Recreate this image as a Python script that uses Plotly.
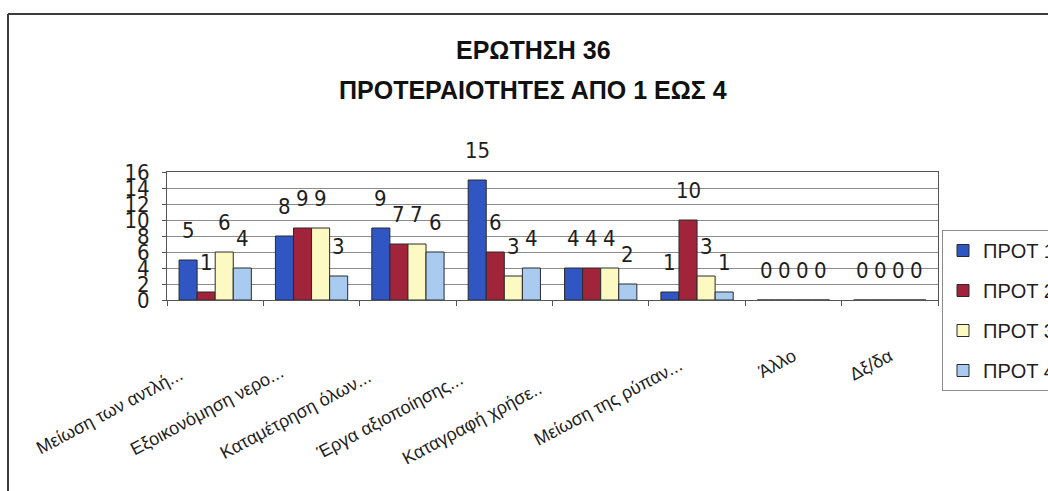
import plotly.graph_objects as go

# Survey question 36: priorities 1 to 4 per measure
categories = [
    "Μείωση των αντλή...",
    "Εξοικονόμηση νερο...",
    "Καταμέτρηση όλων...",
    "Έργα αξιοποίησης...",
    "Καταγραφή χρήσε..",
    "Μείωση της ρύπαν...",
    "Άλλο",
    "Δξ/δα",
]
series_names = ["ΠΡΟΤ 1", "ΠΡΟΤ 2", "ΠΡΟΤ 3", "ΠΡΟΤ 4"]
prot1 = [5, 8, 9, 15, 4, 1, 0, 0]
prot2 = [1, 9, 7, 6, 4, 10, 0, 0]
prot3 = [6, 9, 7, 3, 4, 3, 0, 0]
prot4 = [4, 3, 6, 4, 2, 1, 0, 0]
y_tick_values = [0, 2, 4, 6, 8, 10, 12, 14, 16]
title_lines = ["ΕΡΩΤΗΣΗ 36", "ΠΡΟΤΕΡΑΙΟΤΗΤΕΣ ΑΠΟ 1 ΕΩΣ 4"]

# styling
series_values = [prot1, prot2, prot3, prot4]
colors = ["#3056c4", "#a2243a", "#fdf9c2", "#a9cbef"]
label_pad = [8, 7, 9, 10, 14, 4, 0, 0]   # trailing no-break spaces per tick label
W, H = 1048, 491
M = dict(l=167, r=110, t=172, b=191)
BARGAP = 0.25
TEXT = "#1e1e1e"
SANS = "Liberation Sans, Arial, sans-serif"
NARROW = "Liberation Sans Narrow, DejaVu Sans Condensed, Liberation Sans, sans-serif"

fig = go.Figure()
for name, vals, col in zip(series_names, series_values, colors):
    fig.add_trace(go.Bar(
        x=categories, y=vals, name=name, legendgroup=name,
        marker=dict(color=col, line=dict(color="#2a2a2a", width=1)),
    ))

# value labels above each bar
plot_w = W - M["l"] - M["r"]
cat_w = plot_w / len(categories)
bar_w = cat_w * (1 - BARGAP) / len(series_values)
n = len(series_values)
for j, vals in enumerate(series_values):
    for cat, v in zip(categories, vals):
        fig.add_annotation(
            x=cat, y=v, text=str(v), showarrow=False,
            xshift=(j - (n - 1) / 2) * bar_w, yshift=30, yanchor="middle",
            font=dict(family=NARROW, size=22, color=TEXT),
        )

# two-line bold title
plot_h = H - M["t"] - M["b"]
def paper_y(py):
    return (H - M["b"] - py) / plot_h
def paper_x(px):
    return (px - M["l"]) / plot_w

for line, py in zip(title_lines, [50, 90]):
    fig.add_annotation(
        xref="paper", yref="paper", x=paper_x(533), y=paper_y(py),
        text="<b>" + line + "</b>", showarrow=False,
        xanchor="center", yanchor="middle",
        font=dict(family=SANS, size=25, color="#111"),
    )

# outer frame (top and left edges)
frame = dict(color="#3c3c3c", width=2)
fig.add_shape(type="line", xref="paper", yref="paper",
              x0=paper_x(8), x1=paper_x(W), y0=paper_y(14), y1=paper_y(14), line=frame)
fig.add_shape(type="line", xref="paper", yref="paper",
              x0=paper_x(8), x1=paper_x(8), y0=paper_y(14), y1=paper_y(H), line=frame)

fig.update_layout(
    width=W, height=H,
    margin=dict(**M, pad=0, autoexpand=False),
    paper_bgcolor="white", plot_bgcolor="white",
    barmode="group", bargap=BARGAP, bargroupgap=0,
    showlegend=True,
    legend=dict(
        x=paper_x(942), xanchor="left", y=paper_y(230), yanchor="top",
        bgcolor="white", bordercolor="#8a8a8a", borderwidth=1,
        font=dict(family=SANS, size=20, color=TEXT),
        tracegroupgap=11, traceorder="grouped", maxheight=220,
    ),
    xaxis=dict(
        type="category", range=[-0.5, len(categories) - 0.5],
        tickvals=categories,
        ticktext=[c + "\u00a0" * p for c, p in zip(categories, label_pad)],
        tickangle=-28, ticklabelstandoff=38,
        tickfont=dict(family=SANS, size=18, color=TEXT),
        showline=True, linecolor="#555", linewidth=1, mirror=True,
        ticks="outside", tickson="boundaries", ticklen=5, tickcolor="#555",
        showgrid=False, zeroline=False,
    ),
    yaxis=dict(
        range=[0, 16], tickvals=y_tick_values,
        tickfont=dict(family=NARROW, size=22, color=TEXT),
        showline=True, linecolor="#555", linewidth=1, mirror=True,
        ticks="outside", ticklen=4, tickcolor="#555", ticklabelstandoff=8,
        showgrid=True, gridcolor="#8c8c8c", gridwidth=1, zeroline=False,
    ),
)

fig.write_html("out.html")
